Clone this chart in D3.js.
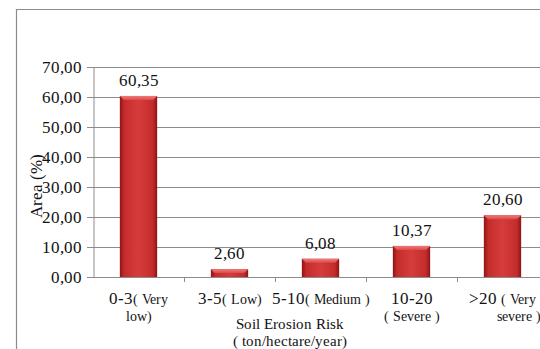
<!DOCTYPE html>
<html>
<head>
<meta charset="utf-8">
<script src="https://cdn.jsdelivr.net/npm/d3@7"></script>
<style>
  @font-face { font-family: "ChartSerif"; src: local("Liberation Serif"), local("LiberationSerif"), local("Times New Roman"); }
</style>
</head>
<body style="margin:0;background:#fff">
<div id="wrap"></div>
<script>
// Soil erosion risk classes and the share of area in each
const categories = ["0-3", "3-5", "5-10", "10-20", ">20"];
const areaPct = [60.35, 2.60, 6.08, 10.37, 20.60];
const yTicks = [0, 10, 20, 30, 40, 50, 60, 70];

const FAMILY = '"ChartSerif", "Liberation Serif", "Times New Roman", serif';
const svg = d3.select("#wrap").append("svg")
  .attr("width", 540).attr("height", 349)
  .style("font-family", FAMILY, "important");
const fmt = v => d3.format(".2f")(v).replace(".", ",");

const margin = { left: 93, top: 67, right: 548, bottom: 277 };

const x = d3.scaleBand().domain(categories).range([margin.left, margin.right]).paddingInner(0.59).paddingOuter(0.295);
const xb = d3.scaleBand().domain(categories).range([margin.left, margin.right]);
const y = d3.scaleLinear().domain([0, 70]).range([margin.bottom, margin.top]);

// every text node carries the serif face explicitly
const serifText = (sel, size) => sel
  .style("font-family", FAMILY, "important")
  .style("font-size", `${size}px`, "important");

// outer chart frame
svg.append("path").attr("d", "M16.5,349 V9.5 H540").attr("fill", "none").attr("stroke", "#8c8c8c").attr("stroke-width", 1.2);

// gradients for the bevelled bars
const defs = svg.append("defs");
const g1 = defs.append("linearGradient").attr("id", "barFill").attr("x1", 0).attr("x2", 1).attr("y1", 0).attr("y2", 0);
[[0, "#8e1414"], [0.12, "#c42c2c"], [0.5, "#d63c3c"], [0.88, "#c42c2c"], [1, "#8e1414"]]
  .forEach(([o, c]) => g1.append("stop").attr("offset", o).attr("stop-color", c));
const g2 = defs.append("linearGradient").attr("id", "barTop").attr("x1", 0).attr("x2", 0).attr("y1", 0).attr("y2", 1);
[[0, "#f07a7a"], [1, "#dc4a4a"]].forEach(([o, c]) => g2.append("stop").attr("offset", o).attr("stop-color", c));

// horizontal gridlines
svg.append("g").selectAll("line").data(yTicks).join("line")
  .attr("x1", margin.left - 6).attr("x2", 540)
  .attr("y1", d => Math.round(y(d)) + 0.5).attr("y2", d => Math.round(y(d)) + 0.5)
  .attr("stroke", "#8c8c8c").attr("stroke-width", 1);

// y axis
const yAxis = svg.append("g").attr("transform", `translate(${margin.left + 0.5},0)`)
  .call(d3.axisLeft(y).tickValues(yTicks).tickFormat(fmt).tickSize(6).tickPadding(6));
yAxis.attr("font-family", null).attr("font-size", null);
yAxis.select(".domain").attr("stroke", "#8c8c8c");
yAxis.selectAll(".tick line").attr("stroke", "#8c8c8c");
serifText(yAxis.selectAll("text").attr("fill", "#111"), 17);

// category boundary ticks under the baseline
svg.append("g").selectAll("line").data(categories.slice(1)).join("line")
  .attr("x1", d => Math.round(xb(d)) + 0.5).attr("x2", d => Math.round(xb(d)) + 0.5)
  .attr("y1", y(0)).attr("y2", y(0) + 5)
  .attr("stroke", "#8c8c8c");

// bars
const bars = svg.append("g").selectAll("g").data(categories).join("g");
bars.append("rect")
  .attr("x", d => x(d)).attr("width", x.bandwidth())
  .attr("y", (d, i) => y(areaPct[i])).attr("height", (d, i) => y(0) - y(areaPct[i]))
  .attr("fill", "url(#barFill)");
bars.append("path")
  .attr("d", (d, i) => {
    const x0 = x(d), x1 = x0 + x.bandwidth(), t = y(areaPct[i]);
    const b = Math.min(4, (y(0) - t) / 2);
    return `M${x0},${t} H${x1} L${x1 - 4},${t + b} H${x0 + 4} Z`;
  })
  .attr("fill", "url(#barTop)");

// value labels
serifText(bars.append("text")
  .attr("x", d => x(d) + x.bandwidth() / 2)
  .attr("y", (d, i) => y(areaPct[i]) - 10)
  .attr("text-anchor", "middle").attr("fill", "#111"), 17)
  .text((d, i) => fmt(areaPct[i]));

// category labels: range in larger type, class name in smaller type
const labelLines = [
  [[categories[0], "( Very"], ["", "low)"]],
  [[categories[1], "( Low)"]],
  [[categories[2], "( Medium )"]],
  [[categories[3], ""], ["", "( Severe )"]],
  [[categories[4], " ( Very"], ["", "severe )"]]
];
const cl = svg.append("g");
categories.forEach((c, i) => {
  const cx = xb(c) + xb.bandwidth() / 2;
  labelLines[i].forEach((line, j) => {
    const t = serifText(cl.append("text").attr("x", i === 4 && j === 1 ? cx + 38 : cx)
      .attr("y", 304 + j * 17)
      .attr("text-anchor", i === 4 && j === 1 ? "end" : "middle").attr("fill", "#111"), 17);
    if (line[0]) serifText(t.append("tspan"), 17).text(line[0]);
    if (line[1]) serifText(t.append("tspan"), 14).text(line[1]);
  });
});

// axis titles
serifText(svg.append("text").attr("x", 290).attr("y", 329).attr("text-anchor", "middle").attr("fill", "#111"), 15)
  .text("Soil Erosion Risk");
serifText(svg.append("text").attr("x", 290).attr("y", 346).attr("text-anchor", "middle").attr("fill", "#111"), 15)
  .text("( ton/hectare/year)");
serifText(svg.append("text").attr("transform", "translate(42,186) rotate(-90)").attr("text-anchor", "middle").attr("fill", "#111"), 17)
  .text("Area (%)");
</script>
</body>
</html>
